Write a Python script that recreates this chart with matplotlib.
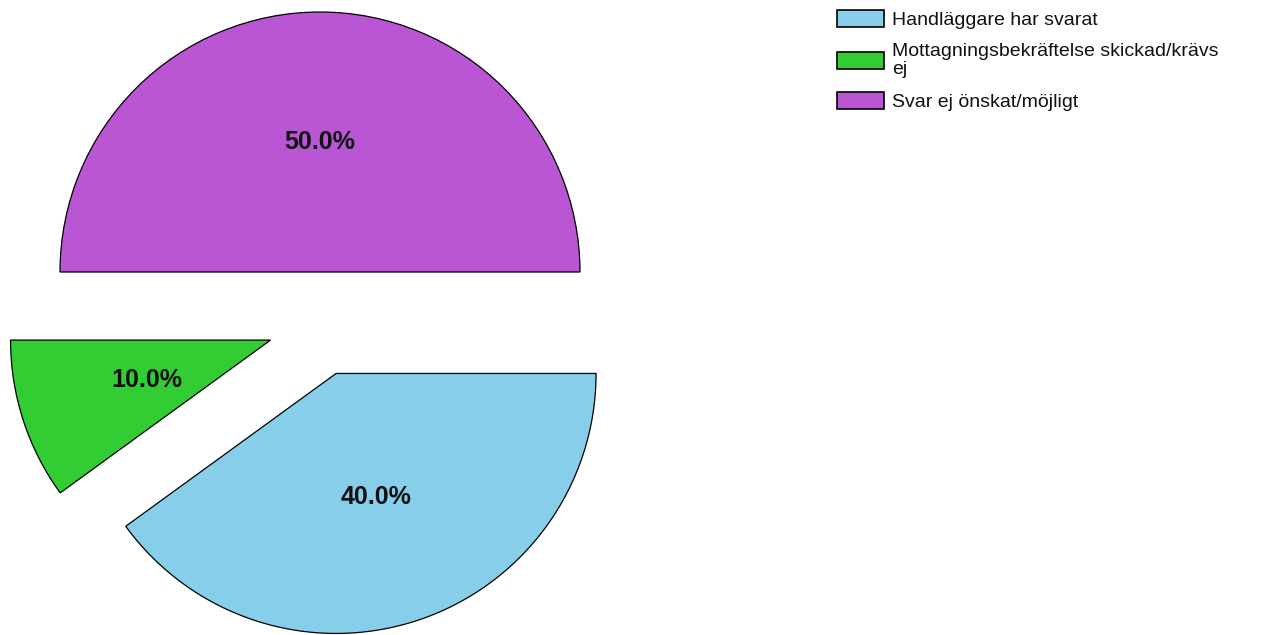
import matplotlib
matplotlib.use("Agg")
import matplotlib.pyplot as plt

plt.rcParams['font.family'] = ['Liberation Sans', 'DejaVu Sans']

# data
labels = ['Handläggare har svarat', 'Mottagningsbekräftelse skickad/krävs\nej', 'Svar ej önskat/möjligt']
values = [40, 10, 50]
colors = ['#87CEEB', '#32CD32', '#BA55D3']
explode = [0.2, 0.2, 0.2]

W, H = 1281, 635
fig = plt.figure(figsize=(W / 100, H / 100), dpi=100)
ax = fig.add_axes([0, 0, 1, 1])

wedges, texts, autotexts = ax.pie(values, colors=colors, explode=explode, startangle=0,
                                  counterclock=False, autopct='%1.1f%%', pctdistance=0.5,
                                  wedgeprops=dict(edgecolor='black', linewidth=0.9),
                                  textprops=dict(fontsize=18, fontweight='bold', color='#111111'))

# pixel mapping: radius 260 px, centre at (320, 324) from top-left
R = 260.0
cx, cy = 320.0, 324.0
ax.set_aspect('auto')
ax.set_xlim(-cx / R, (W - cx) / R)
ax.set_ylim(-(H - cy) / R, cy / R)
ax.axis('off')

leg = fig.legend(wedges, labels, loc='upper left', bbox_to_anchor=(837 / W, 1 - 10 / H),
                 frameon=False, fontsize=14, handlelength=2.4, handleheight=0.95,
                 handletextpad=0.45, labelspacing=0.72, borderaxespad=0, borderpad=0)
for h in leg.legend_handles:
    h.set_edgecolor('black')
    h.set_linewidth(1.2)
for t in leg.get_texts():
    t.set_linespacing(1.1)
    t.set_color('#111111')

fig.savefig('out.png', dpi=100)
